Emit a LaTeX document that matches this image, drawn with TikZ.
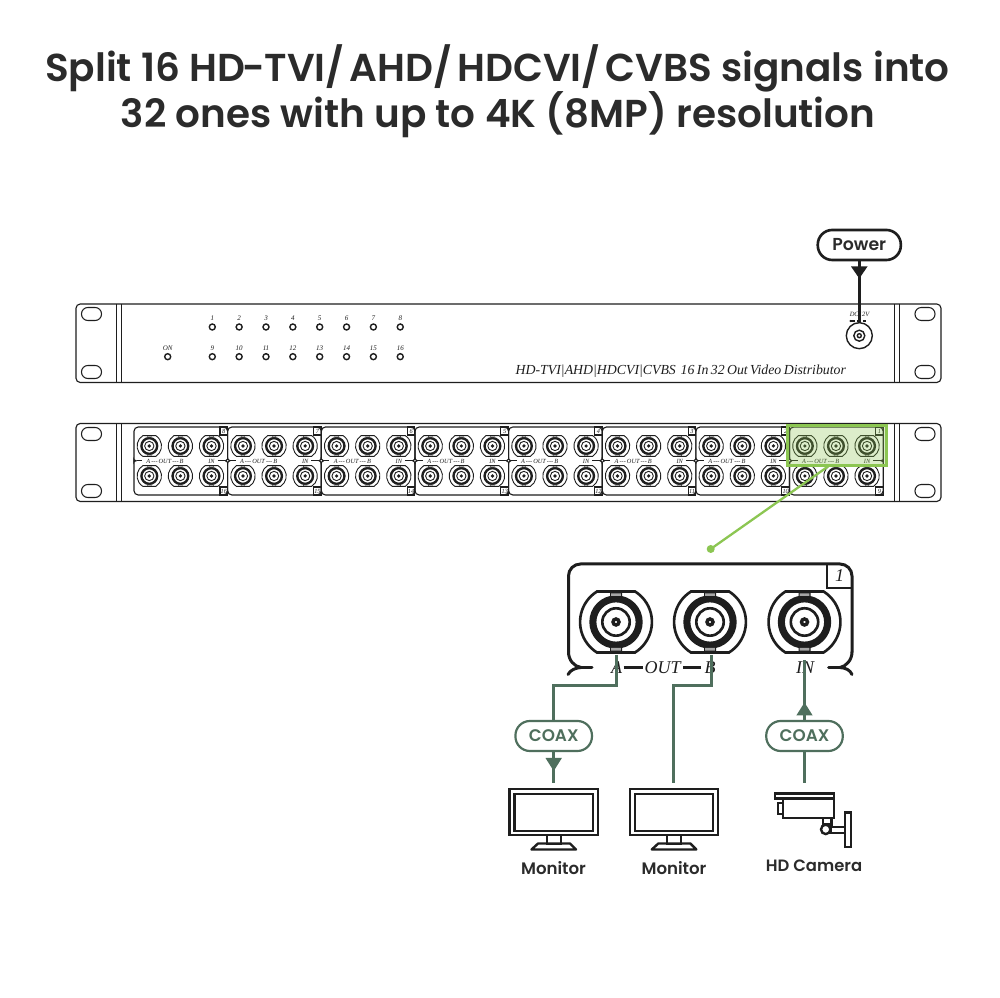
\documentclass[tikz,border=0pt]{standalone}
\usepackage{fontspec}
\setmainfont{Poppins}[BoldFont={Poppins SemiBold}]
\newfontfamily\serifit{Liberation Serif}[ItalicFont={Liberation Serif Italic},WordSpace=0.7]
\usetikzlibrary{calc}
\definecolor{ink}{HTML}{1E1E1E}
\definecolor{titleink}{HTML}{2B2B2B}
\definecolor{coax}{HTML}{4F6F5D}
\definecolor{hl}{HTML}{8CC652}
\newcommand{\Fs}[1]{\fontsize{\dimexpr#1pt*2845/10000\relax}{\dimexpr#1pt*3000/10000\relax}\selectfont}
\newcommand{\Bnc}[3]{% x y scale
 \begin{scope}[shift={(#1,#2)},x=#3*0.01cm,y=#3*0.01cm]
  \pgfmathsetmacro\lwa{#3*0.75}
  \draw[line width=\lwa pt,ink] (19,-30.5) arc[start angle=-58,end angle=58,radius=36] -- (-19,30.5) arc[start angle=122,end angle=238,radius=36] -- cycle;
  \fill[ink,even odd rule] (0,0) circle[radius=26.7] circle[radius=19.6];
  \fill[ink] (-6,-29.5) rectangle (6,-25) (-6,25) rectangle (6,29.5);
  \draw[line width=\lwa pt,ink] (0,0) circle[radius=13.7];
  \draw[line width=\lwa pt*1.3,ink] (0,0) circle[radius=3];
  \fill[gray!70] (-4.8,-28.7) rectangle (4.8,-26) (-4.8,26) rectangle (4.8,28.7);
 \end{scope}}
\tikzset{
 panel/.style={draw=ink,line width=.32pt,rounded corners=1.2pt},
 thin line/.style={draw=ink,line width=.3pt},
 hole/.style={draw=ink,line width=.3pt,rounded corners=1.8pt},
 led/.style={draw=ink,line width=.4pt},
 txt/.style={text=titleink,inner sep=0pt,font=\bfseries},
 cable/.style={draw=coax,line width=.75pt},
 mon/.style={draw=ink,line width=.68pt},
 tiny/.style={inner sep=0pt,text=ink,font=\serifit\itshape},
}
\begin{document}
\begin{tikzpicture}[x=0.01cm,y=-0.01cm]
\useasboundingbox (0,0) rectangle (1000,998);
\fill[white] (0,0) rectangle (1000,998);
% Title
\node[txt,font=\bfseries\Fs{38.9}] (t1) at (497.5,68) {Split 16 HD\kern-.7pt-\kern-.3pt TVI/\kern-1.14pt\ AHD/\kern-1.14pt\ HDCVI/\kern-1.14pt\ CVBS signals into};
\node[txt,font=\bfseries\Fs{38.9}] (t2) at (498,115) {32 ones with up to 4K (8MP) resolution};
% Panels
\foreach \yt/\yb/\ha/\hb in {304/382.5/314/372,423.5/501.5/434/491}{
 \draw[panel] (76,\yt) rectangle (941,\yb);
 \draw[thin line] (116.5,\yt) -- (116.5,\yb) (121.5,\yt) -- (121.5,\yb) (894.5,\yt) -- (894.5,\yb) (899.5,\yt) -- (899.5,\yb);
 \foreach \cx in {91.5,925}{
  \foreach \cy in {\ha,\hb}{
   \draw[hole] (\cx-10,\cy-6.5) rectangle (\cx+10,\cy+6.5);
  }}
}
% LEDs
\foreach \n [count=\i from 0] in {1,...,8}{
 \pgfmathsetmacro\lx{212.3+\i*26.85}
 \draw[led] (\lx,327) circle[radius=3];
 \node[tiny,font=\serifit\itshape\Fs{7}] at (\lx,318.5) {\n};
}
\foreach \n [count=\i from 0] in {9,...,16}{
 \pgfmathsetmacro\lx{212.3+\i*26.85}
 \draw[led] (\lx,356.7) circle[radius=3];
 \node[tiny,font=\serifit\itshape\Fs{7}] at (\lx,348) {\n};
}
\draw[led] (167.7,356.7) circle[radius=3];
\node[tiny,font=\serifit\itshape\Fs{7}] at (167.7,348) {ON};
% front text
\node[tiny,font=\serifit\itshape\Fs{13.8},anchor=west] (ft) at (515,371) {HD-TVI|AHD|HDCVI|CVBS\ \ 16 In 32 Out Video Distributor};
% DC jack
\node[tiny,font=\serifit\itshape\Fs{6.5}] at (859.5,314.3) {DC12V};
\draw[ink,line width=.3pt] (851,321) -- (855,321) (857,321) -- (861,321) (863,321) -- (866,321);
\fill[ink] (850.5,321) circle[radius=1.2];
\draw[led] (859.3,335.7) circle[radius=13];
\draw[led] (859.3,335.7) circle[radius=5.5];
\draw[led] (859.3,335.7) circle[radius=2];
% Rear units
\foreach \u [count=\i from 0] in {8,7,6,5,4,3,2,1}{
 \pgfmathsetmacro\ux{134+\i*93.65}
 \pgfmathtruncatemacro\lo{\u+8}
 \begin{scope}[shift={(\ux,0)}]
  \draw[panel,rounded corners=1.2pt] (2.5,460.7) .. controls (1,460.2) and (0,459.5) .. (0,457.5) -- (0,427) -- (93.65,427) -- (93.65,457.5) .. controls (93.65,459.5) and (92.6,460.2) .. (91.2,460.7);
  \draw[panel,rounded corners=1.2pt] (2.5,460.7) .. controls (1,461.2) and (0,462) .. (0,464) -- (0,495) -- (93.65,495) -- (93.65,464) .. controls (93.65,462) and (92.6,461.2) .. (91.2,460.7);
  \draw[thin line] (86,427) rectangle (93.65,435);
  \draw[thin line] (86,487) rectangle (93.65,495);
  \node[tiny,font=\serifit\itshape\Fs{6.3}] at (89.8,431) {\u};
  \node[tiny,font=\serifit\itshape\Fs{6.3}] at (89.8,491) {\lo};
  \node[tiny,font=\serifit\itshape\Fs{6.3}] at (31,461) {A\,---\,OUT\,---\,B};
  \node[tiny,font=\serifit\itshape\Fs{6.3}] at (77.5,461) {IN};
  \draw[thin line] (2.5,460.7) -- (8,460.7);
  \draw[thin line] (83.5,460.7) -- (91.2,460.7);
 \end{scope}
 \foreach \k in {0,1,2}{
  \Bnc{\ux+15.3+\k*31.1}{446}{0.34}
  \Bnc{\ux+15.3+\k*31.1}{476}{0.34}
 }
}
\foreach \i in {1,...,7}{
 \pgfmathsetmacro\ux{134+\i*93.65}
 \fill[white] (\ux,460.7) circle[radius=1.8];
 \draw[thin line] (\ux,460.7) circle[radius=1.8];
}
% Highlight
\draw[fill=hl,fill opacity=.3,draw=hl,draw opacity=1,line width=.85pt] (787,426) rectangle (886,466);
\coordinate (hla) at (828,466.5);
\fill[hl] (710.7,549) circle[radius=4] coordinate (hlb);
\draw[hl,line width=.65pt] (hla) -- (hlb);
% Big unit
\draw[ink,line width=.85pt,line cap=round,rounded corners=3.4pt]
 (568.5,652) -- (568.5,564) -- (852,564) -- (852,652);
\draw[ink,line width=.85pt,line cap=round]
 (568.5,652) .. controls (568.5,660) and (574,666.5) .. (581,667.5) -- (592,667.5);
\draw[ink,line width=.85pt,line cap=round]
 (581,667.5) .. controls (575,668) and (570.5,670) .. (568,674.5);
\draw[ink,line width=.85pt,line cap=round]
 (852,652) .. controls (852,660) and (846,666.5) .. (840,667.5) -- (828.5,667.5);
\draw[ink,line width=.85pt,line cap=round] (840,667.5) .. controls (846,668) and (850,670) .. (852,674.5);
\draw[ink,line width=.6pt] (827,564) -- (827,588) -- (852,588);
\node[tiny,font=\serifit\itshape\Fs{18}] (lb1) at (839.5,576) {1};
\foreach \cx in {616,710,804.5}{\Bnc{\cx}{622}{1}}
\node[tiny,font=\serifit\itshape\Fs{18}] (lA) at (616.7,668) {A};
\node[tiny,font=\serifit\itshape\Fs{18}] (lO) at (662.7,668) {OUT};
\node[tiny,font=\serifit\itshape\Fs{18}] (lB) at (710,668) {B};
\node[tiny,font=\serifit\itshape\Fs{18}] (lI) at (805,668) {IN};
\draw[ink,line width=.6pt] (623.5,667.5) -- (643,667.5) (683,667.5) -- (701,667.5);
% Pills
\node[draw=ink,line width=.75pt,rounded corners=.145cm,minimum width=.83cm,minimum height=.3cm,inner sep=0pt,fill=white,text=titleink,font=\bfseries\Fs{17.3}] (pw) at (859.3,245) {\raisebox{-.28pt}{Power}};
\coordinate (pwe) at (859.3,323);
\draw[ink,line width=.75pt] (pw.south) -- (pwe);
\fill[ink] (851,266.5) -- (867.5,266.5) -- (859.3,278.5) -- cycle;
\tikzset{pillnode/.style={draw=coax,line width=.62pt,rounded corners=.145cm,minimum width=.765cm,minimum height=.3cm,inner sep=0pt,fill=white,text=coax,font=\bfseries\Fs{16.8}}}
\node[pillnode] (c1) at (553.7,736) {\raisebox{-.28pt}{COAX}};
\node[pillnode] (c2) at (804.5,736) {\raisebox{-.28pt}{COAX}};
\coordinate (a1) at (616.7,655);
\coordinate (a2) at (711.7,655);
\coordinate (a3) at (804.5,660);
\coordinate (e1) at (553.7,783);
\coordinate (e2) at (673.7,783);
\coordinate (e3) at (804.5,783);
\draw[cable] (a1) |- (553.7,685.7) -- (c1.north);
\draw[cable] (c1.south) -- (e1);
\draw[cable] (a2) |- (673.7,685.7) -- (e2);
\draw[cable] (c2.south) -- (e3);
\draw[cable] (c2.north) -- (a3);
\fill[coax] (545.5,758) -- (561.9,758) -- (553.7,771) -- cycle;
\fill[coax] (796.3,715.5) -- (812.7,715.5) -- (804.5,702.5) -- cycle;
% Monitors
\foreach \dx in {0,120.3}{
 \begin{scope}[shift={(\dx,0)}]
  \draw[mon] (509.5,789.3) rectangle (597.7,835.3);
  \draw[mon] (514.5,794) rectangle (592.7,830.7);
  \draw[mon] (546.7,835.3) rectangle (560.7,844.3);
  \draw[mon,line join=round] (538,843.5) -- (570,843.5) -- (576,849.5) -- (531.5,849.5) -- cycle;
 \end{scope}
}
% Camera
\draw[mon] (775,793.5) rectangle (834,798.5);
\draw[mon] (782.7,798.5) rectangle (834,817.7);
\draw[mon] (777.7,802.7) rectangle (782.7,814);
\draw[mon] (845,812.5) rectangle (851,847.2);
\draw[mon] (830.5,826.7) rectangle (845,832.7);
\draw[mon] (822.7,817.7) rectangle (831.5,824.5);
\draw[mon,fill=white] (825.7,829.4) circle[radius=4.7];
% Labels
\node[txt,font=\bfseries\Fs{16.6}] (m1) at (553.5,868) {Monitor};
\node[txt,font=\bfseries\Fs{16.6}] (m2) at (674,868) {Monitor};
\node[txt,font=\bfseries\Fs{16.4}] (m3) at (814,866) {HD Camera};
\end{tikzpicture}
\end{document}
